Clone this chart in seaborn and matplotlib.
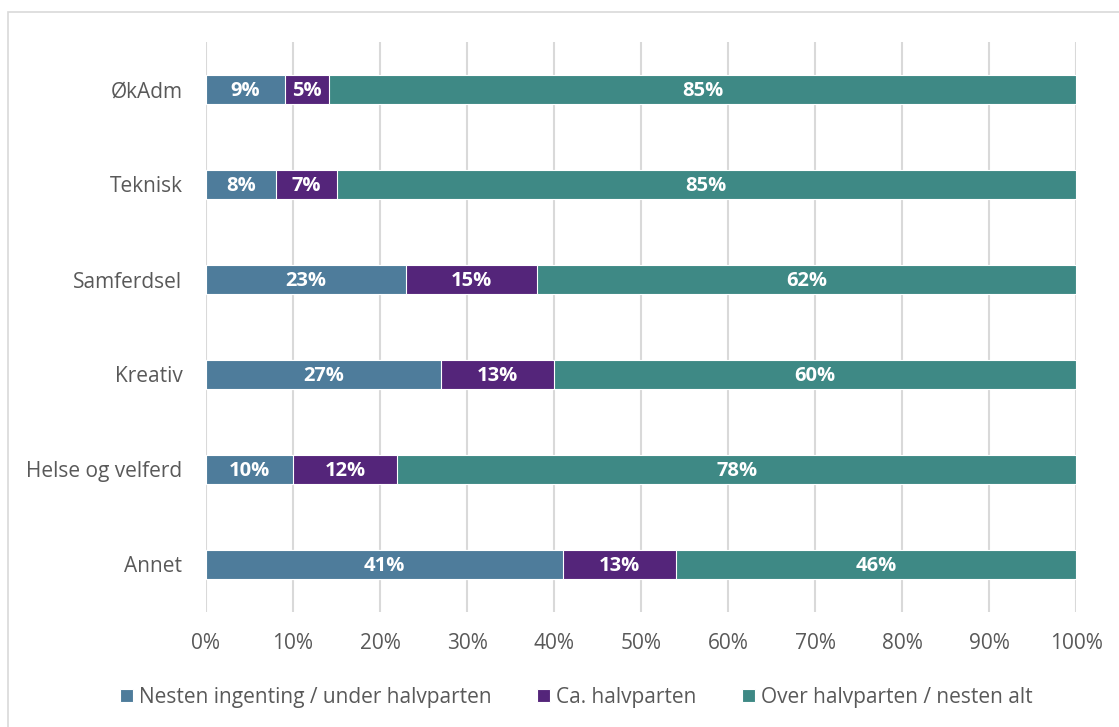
import numpy as np
import pandas as pd
import matplotlib.pyplot as plt
import seaborn as sns
from matplotlib.patches import Rectangle

categories = ['ØkAdm', 'Teknisk', 'Samferdsel', 'Kreativ', 'Helse og velferd', 'Annet']
nesten_ingenting = [9, 8, 23, 27, 10, 41]
ca_halvparten = [5, 7, 15, 13, 12, 13]
over_halvparten = [85, 85, 62, 60, 78, 46]
series_names = ['Nesten ingenting / under halvparten', 'Ca. halvparten', 'Over halvparten / nesten alt']
colors = ['#4E7C9B', '#54257A', '#3E8985']

df = pd.DataFrame({
    series_names[0]: nesten_ingenting,
    series_names[1]: ca_halvparten,
    series_names[2]: over_halvparten,
}, index=categories)
# 100% stacked: normalise each row
share = df.div(df.sum(axis=1), axis=0) * 100
cum = share.cumsum(axis=1)

sns.set_theme(style='white')
plt.rcParams['font.family'] = ['Open Sans', 'DejaVu Sans']

fig = plt.figure(figsize=(11.19, 7.27), dpi=100)
ax = fig.add_axes([206 / 1119, 1 - 612 / 727, 870 / 1119, 570 / 727])

# draw from the outermost layer inwards so segments overlay
for i in reversed(range(3)):
    name = series_names[i]
    sns.barplot(x=cum[name].values, y=categories, orient='h', color=colors[i],
                saturation=1, width=0.31, edgecolor='white', linewidth=0.8,
                ax=ax, zorder=3, label=name)

for i, name in enumerate(series_names):
    left = cum[name] - share[name]
    for j, cat in enumerate(categories):
        ax.text(left.iloc[j] + share[name].iloc[j] / 2, j + 0.02, f'{df[name].iloc[j]}%',
                ha='center', va='center', color='white', fontsize=14.5,
                fontweight='bold', zorder=5)

ax.set_xlim(0, 100)
ax.set_ylim(5.5, -0.5)
ax.set_xticks(np.arange(0, 101, 10))
ax.set_xticklabels([f'{v}%' for v in range(0, 101, 10)])
ax.tick_params(axis='x', labelsize=15, colors='#595959', length=0, pad=15)
ax.tick_params(axis='y', labelsize=15, colors='#595959', length=0, pad=17)
ax.xaxis.grid(True, color='#D9D9D9', linewidth=1.5, zorder=0)
ax.set_axisbelow(True)
ax.yaxis.grid(False)
for s in ax.spines.values():
    s.set_visible(False)
ax.set_xlabel('')
ax.set_ylabel('')

handles, labels = ax.get_legend_handles_labels()
order = [labels.index(n) for n in series_names]
if ax.legend_:
    ax.legend_.remove()
fig.legend([handles[k] for k in order], series_names, loc='center',
           bbox_to_anchor=(0.515, 1 - 697 / 727), ncol=3, frameon=False,
           fontsize=15, labelcolor='#595959', handlelength=0.6, handleheight=0.6,
           handletextpad=0.3, columnspacing=2.2)

fig.patches.append(Rectangle((8 / 1119, -0.05), 1.2, 1.05 - 12 / 727,
                             transform=fig.transFigure, fill=False,
                             edgecolor='#D9D9D9', linewidth=1.2))

fig.savefig('out.png', dpi=100)
